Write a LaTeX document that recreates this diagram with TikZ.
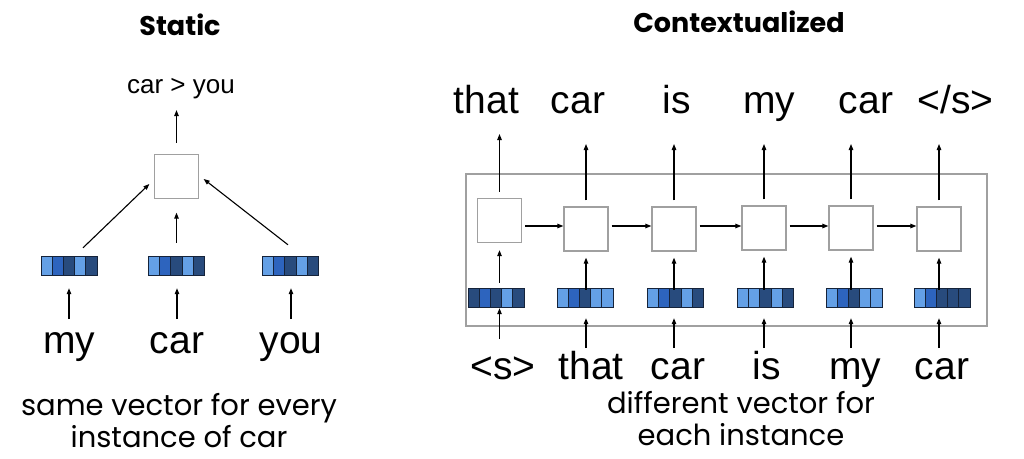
\documentclass[tikz,border=0pt]{standalone}
\usepackage{fontspec}
\setmainfont{Liberation Sans}
\newfontfamily\handfont{Poppins}
\usetikzlibrary{arrows.meta,calc}
\definecolor{vL}{HTML}{64A0E6}
\definecolor{vM}{HTML}{2D64BE}
\definecolor{vD}{HTML}{284B7D}
\definecolor{vline}{HTML}{15233A}
\definecolor{boxgray}{HTML}{A0A0A0}
\newcommand\wordvec[4]{%
  \node[vecnode] (#1) at (#2,#3) {};
  \foreach \cc [count=\ii] in {#4} {
    \filldraw[fill=\cc, draw=vline, line width=0.9pt] ({#2-39.2+\ii*11.2},{#3-9.5}) rectangle ++(11.2,19);
  }
}
\begin{document}
\begin{tikzpicture}[x=1pt,y=-1pt,
  arr/.style={line width=1.1pt, -{Triangle[length=6pt,width=4.5pt]}},
  cellbox/.style={draw=boxgray, line width=1.3pt, minimum size=44pt, inner sep=0pt, fill=white},
  framebox/.style={draw=boxgray, line width=1.5pt, inner sep=0pt},
  vecnode/.style={rectangle, minimum width=56pt, minimum height=19pt, inner sep=0pt},
  word/.style={font=\fontsize{39}{39}\selectfont, inner sep=0pt, anchor=base},
  smallword/.style={font=\fontsize{26}{26}\selectfont, inner sep=0pt, anchor=base},
  title/.style={font=\handfont\bfseries\fontsize{27}{27}\selectfont, inner sep=0pt},
  caption/.style={font=\handfont\fontsize{29}{32}\selectfont, inner sep=0pt, align=center}]
\fill[white] (0,0) rectangle (1024,458);
\useasboundingbox (0,0) rectangle (1024,458);

% titles
\node[title] (tS) at (180,25) {Static};
\node[title] (tC) at (739,22) {Contextualized};

% ---------- static ----------
\node[cellbox] (S) at (176.5,176.5) {};
\node[smallword] (out) at (181,93) {car > you};
\draw[arr, shorten <=11pt, shorten >=11.5pt] (S.north) -- (S.north |- out.south);

\wordvec{L1}{69}{265.5}{vL,vM,vD,vL,vD}
\wordvec{L2}{176.5}{265.5}{vL,vM,vD,vL,vD}
\wordvec{L3}{290.5}{265.5}{vL,vM,vD,vL,vD}

\draw[arr] ($(L1.north)+(14,-8)$) -- ($(S.west)+(-4.5,7.5)$);
\draw[arr, shorten <=13pt, shorten >=13.5pt] (L2.north) -- (S.south);
\draw[arr] ($(L3.north)+(-2.5,-11)$) -- ($(S.east)+(4.5,2.5)$);

\node[word] (w1) at (69,353) {my};
\node[word] (w2) at (177,353) {car};
\node[word] (w3) at (291,353) {you};
\draw[arr, shorten >=13pt] ($(w1.base)+(0,-34)$) -- (w1.base |- L1.south);
\draw[arr, shorten >=13pt] ($(w2.base)+(0,-34)$) -- (w2.base |- L2.south);
\draw[arr, shorten >=13pt] ($(w3.base)+(0,-34)$) -- (w3.base |- L3.south);

\node[caption] (capS) at (179,421) {same vector for every\\instance of car};

% ---------- contextualized ----------
\node[framebox, minimum width=521pt, minimum height=152pt] (F) at (726.5,250) {};

\node[cellbox] (C1) at (499.5,220.5) {};
\node[cellbox] (C2) at (586,229) {};
\node[cellbox] (C3) at (674,229) {};
\node[cellbox] (C4) at (764,228) {};
\node[cellbox] (C5) at (851,228) {};
\node[cellbox] (C6) at (939,229) {};

\coordinate (hy) at (0,226);
\foreach \a/\b in {C1/C2,C2/C3,C3/C4,C4/C5,C5/C6}
  \draw[arr, shorten <=3pt] (\a.east |- hy) -- (\b.west |- hy);

\wordvec{V1}{496}{297.5}{vD,vM,vD,vL,vD}
\wordvec{V2}{585}{297.5}{vL,vM,vD,vL,vL}
\wordvec{V3}{675.5}{297.5}{vL,vM,vD,vL,vD}
\wordvec{V4}{765.5}{297.5}{vL,vL,vD,vL,vD}
\wordvec{V5}{854}{297.5}{vL,vM,vD,vL,vL}
\wordvec{V6}{942}{297.5}{vL,vM,vD,vD,vD}

\draw[arr, shorten <=5pt, shorten >=7pt] (C1.south |- V1.north) -- (C1.south);
\foreach \i in {2,...,6}
  \draw[arr, shorten <=-2pt, shorten >=6pt] (C\i.south |- V\i.north) -- (C\i.south);

% top words
\node[word] (T1) at (486.5,113) {that};
\node[word] (T2) at (578,113) {car};
\node[word] (T3) at (676.5,113) {is};
\node[word] (T4) at (769,113) {my};
\node[word] (T5) at (866,113) {car};
\node[word] (T6) at (955.5,113) {</s>};

\draw[arr, shorten <=6pt, shorten >=21pt] (C1.north) -- (C1.north |- T1.base);
\foreach \i in {2,...,6}
  \draw[arr, shorten <=6pt, shorten >=31pt] (C\i.north) -- (C\i.north |- T\i.base);

% bottom words
\node[word] (B1) at (503,379) {<s>};
\node[word] (B2) at (591,379) {that};
\node[word] (B3) at (678,379) {car};
\node[word] (B4) at (767,379) {is};
\node[word] (B5) at (855,379) {my};
\node[word] (B6) at (942,379) {car};

\draw[arr, shorten >=1pt] ($(C1.south |- B1.base)+(0,-40)$) -- (C1.south |- V1.south);
\foreach \i in {2,...,6}
  \draw[arr, shorten >=11pt] ($(C\i.south |- B\i.base)+(0,-31)$) -- (C\i.south |- V\i.south);

\node[caption] (capC) at (741,419) {different vector for\\each instance};
\end{tikzpicture}
\end{document}
